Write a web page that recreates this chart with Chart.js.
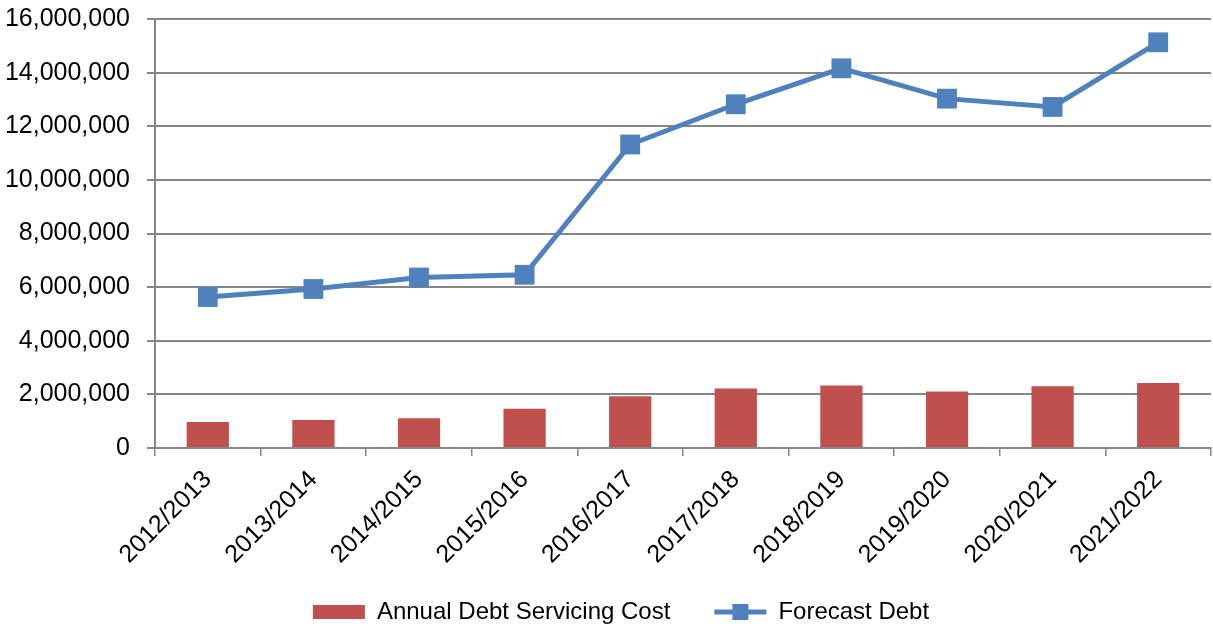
<!DOCTYPE html>
<html>
<head>
<meta charset="utf-8">
<script src="https://cdn.jsdelivr.net/npm/chart.js@4.4.0/dist/chart.umd.min.js"></script>
<style>
  html, body { margin: 0; padding: 0; background: #fff; }
  #wrap { width: 1213px; height: 628px; }
</style>
</head>
<body>
<div id="wrap"><canvas id="debtChart"></canvas></div>
<script>
const years = ['2012/2013', '2013/2014', '2014/2015', '2015/2016', '2016/2017',
               '2017/2018', '2018/2019', '2019/2020', '2020/2021', '2021/2022'];
const servicingCost = [970000, 1040000, 1110000, 1460000, 1930000, 2220000, 2330000, 2110000, 2300000, 2420000];
const forecastDebt = [5630000, 5930000, 6360000, 6460000, 11320000, 12820000, 14160000, 13030000, 12720000, 15130000];

const barColor = '#C0504D';
const lineColor = '#4F81BD';
const gridColor = '#868686';
const fontFamily = '"Liberation Sans", Arial, sans-serif';

// legend sits a bit right of centre in the original, and the line key is line + marker
const legendTweaks = {
    id: 'legendTweaks',
    afterLayout(chart) {
        const lg = chart.legend;
        if (!lg) return;
        lg.left += 13;
        lg.right += 13;
    },
    afterDraw(chart) {
        const lg = chart.legend;
        if (!lg || !lg.legendHitBoxes) return;
        const box = lg.legendHitBoxes[1];
        if (!box) return;
        const ctx = chart.ctx;
        const w = lg.options.labels.boxWidth;
        const cy = box.top + box.height / 2;
        ctx.save();
        ctx.strokeStyle = lineColor;
        ctx.lineWidth = 5;
        ctx.beginPath();
        ctx.moveTo(box.left, cy);
        ctx.lineTo(box.left + w, cy);
        ctx.stroke();
        ctx.fillStyle = lineColor;
        ctx.fillRect(box.left + w / 2 - 8, cy - 8, 16, 16);
        ctx.restore();
    }
};

function drawChart() {
    const ctx = document.getElementById('debtChart').getContext('2d');
    new Chart(ctx, {
        type: 'bar',
        data: {
            labels: years,
            datasets: [{
                type: 'bar',
                label: 'Annual Debt Servicing Cost',
                data: servicingCost,
                backgroundColor: barColor,
                borderWidth: 0,
                categoryPercentage: 1,
                barPercentage: 0.4,
                order: 2
            }, {
                type: 'line',
                label: 'Forecast Debt',
                data: forecastDebt,
                borderColor: lineColor,
                backgroundColor: lineColor,
                borderWidth: 5,
                tension: 0,
                pointStyle: 'rect',
                pointRadius: 14,
                pointHoverRadius: 14,
                pointBorderWidth: 0,
                order: 1
            }]
        },
        options: {
            responsive: true,
            maintainAspectRatio: false,
            animation: false,
            layout: { autoPadding: false, padding: { top: 0, right: 2, left: 5, bottom: -6 } },
            scales: {
                x: {
                    offset: true,
                    // rotated labels fit in the y-axis gutter; fixed band height like the original
                    afterFit: (scale) => { scale.paddingLeft = 0; scale.paddingRight = 0; scale.height = 132; },
                    grid: {
                        offset: true,
                        drawOnChartArea: false,
                        drawTicks: true,
                        tickLength: 8,
                        color: gridColor,
                        lineWidth: 1.5
                    },
                    border: { color: gridColor, width: 2 },
                    ticks: {
                        color: '#000',
                        font: { size: 25, family: fontFamily },
                        minRotation: 45,
                        maxRotation: 45,
                        padding: 9
                    }
                },
                y: {
                    min: 0,
                    max: 16000000,
                    afterFit: (scale) => { scale.paddingTop = 19; scale.width = 150; },
                    ticks: {
                        stepSize: 2000000,
                        color: '#000',
                        padding: 17,
                        font: { size: 25, family: fontFamily },
                        callback: (v) => v.toLocaleString('en-US')
                    },
                    grid: {
                        color: gridColor,
                        lineWidth: 2,
                        tickLength: 8
                    },
                    border: { color: gridColor, width: 2 }
                }
            },
            plugins: {
                legend: {
                    position: 'bottom',
                    labels: {
                        color: '#000',
                        boxWidth: 52,
                        boxHeight: 14,
                        padding: 20,
                        font: { size: 24, family: fontFamily },
                        generateLabels: (chart) => {
                            const items = Chart.defaults.plugins.legend.labels.generateLabels(chart);
                            items.forEach(it => {
                                it.lineWidth = 0;
                                if (it.datasetIndex === 0) {
                                    it.text = it.text + '\u2003'; // Excel leaves a wider gap between the two entries
                                }
                                if (it.datasetIndex === 1) {
                                    it.fillStyle = 'rgba(0,0,0,0)';
                                    it.strokeStyle = 'rgba(0,0,0,0)';
                                }
                            });
                            return items.sort((a, b) => a.datasetIndex - b.datasetIndex);
                        }
                    }
                },
                tooltip: { enabled: false }
            }
        },
        plugins: [legendTweaks]
    });
}

// measure labels only once the font is really there
Promise.all([
    document.fonts.load('25px "Liberation Sans"'),
    document.fonts.load('24px "Liberation Sans"')
]).then(drawChart, drawChart);
</script>
</body>
</html>
